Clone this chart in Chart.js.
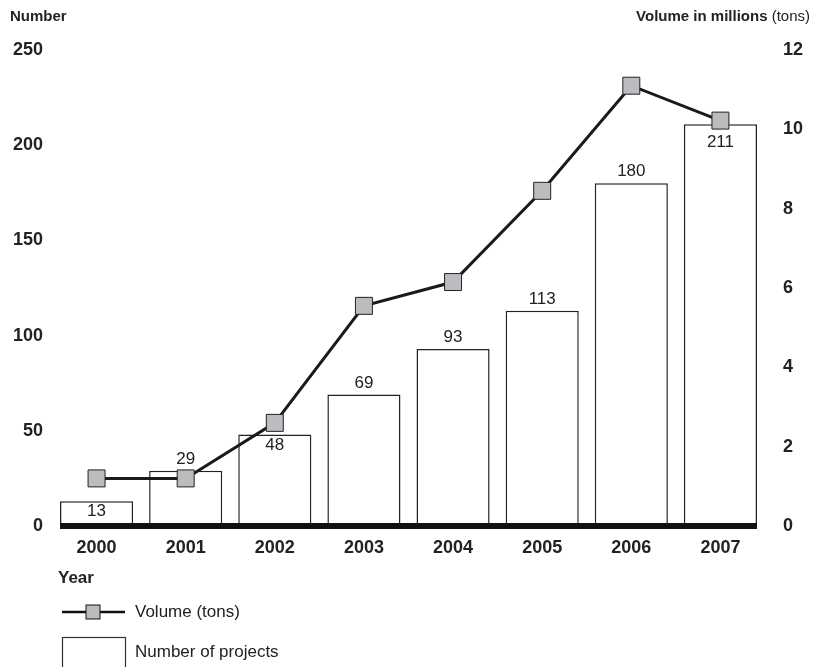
<!DOCTYPE html>
<html>
<head>
<meta charset="utf-8">
<script src="https://cdn.jsdelivr.net/npm/chart.js@4"></script>
<style>
  html, body { margin: 0; padding: 0; background: #fff; }
  canvas { display: block; }
</style>
</head>
<body>
<canvas id="chart" width="815" height="667"></canvas>
<script>
// data
var years = ["2000", "2001", "2002", "2003", "2004", "2005", "2006", "2007"];
var projects = [13, 29, 48, 69, 93, 113, 180, 211];
var volume = [1.2, 1.2, 2.6, 5.55, 6.15, 8.45, 11.1, 10.22];
var leftTicks = [0, 50, 100, 150, 200, 250];
var rightTicks = [0, 2, 4, 6, 8, 10, 12];

var FONT = "'Liberation Sans', Arial, sans-serif";

// labels, baseline, titles and the legend drawn by hand
var extras = {
  id: 'extras',
  afterDatasetsDraw: function(chart) {
    var ctx = chart.ctx;
    var meta = chart.getDatasetMeta(1);
    var line = chart.getDatasetMeta(0);
    var y0 = chart.scales.y.getPixelForValue(0);

    ctx.save();
    ctx.font = "17px " + FONT;
    ctx.fillStyle = "#222";
    ctx.textAlign = "center";
    meta.data.forEach(function(bar, i) {
      // small bar, bar under a marker and the top bar get their label inside
      var inside = (i == 0 || i == 2 || i == 7);
      if (inside) {
        var markBottom = line.data[i].y + 8.5;
        var off = Math.max(2, markBottom - bar.y + 5);
        ctx.textBaseline = "top";
        ctx.fillText(String(projects[i]), bar.x, bar.y + off);
      } else {
        ctx.textBaseline = "bottom";
        ctx.fillText(String(projects[i]), bar.x, bar.y - 3);
      }
    });

    // thick baseline
    var first = meta.data[0], last = meta.data[meta.data.length - 1];
    ctx.fillStyle = "#111";
    ctx.fillRect(first.x - first.width / 2, y0 - 3, (last.x + last.width / 2) - (first.x - first.width / 2), 6);

    // axis titles
    ctx.textBaseline = "middle";
    ctx.textAlign = "left";
    ctx.fillStyle = "#222";
    ctx.font = "bold 15px " + FONT;
    ctx.fillText("Number", 10, 17);
    ctx.font = "15px " + FONT;
    var tw = ctx.measureText("(tons)").width;
    ctx.textAlign = "right";
    ctx.fillText("(tons)", 810, 17);
    ctx.font = "bold 15px " + FONT;
    ctx.fillText("Volume in millions ", 810 - tw, 17);

    ctx.textAlign = "left";
    ctx.font = "bold 17px " + FONT;
    ctx.fillText("Year", 58, 578);

    // legend
    ctx.strokeStyle = "#111";
    ctx.lineWidth = 2.5;
    ctx.beginPath();
    ctx.moveTo(62, 612);
    ctx.lineTo(125, 612);
    ctx.stroke();
    ctx.fillStyle = "#bbbcc0";
    ctx.fillRect(86, 605, 14, 14);
    ctx.lineWidth = 1;
    ctx.strokeRect(86, 605, 14, 14);
    ctx.strokeStyle = "#333";
    ctx.lineWidth = 1.2;
    ctx.strokeRect(62.5, 637.5, 63, 40);

    ctx.fillStyle = "#222";
    ctx.font = "17px " + FONT;
    ctx.fillText("Volume (tons)", 135, 612);
    ctx.fillText("Number of projects", 135, 652);
    ctx.restore();
  }
};

var chart = new Chart(document.getElementById("chart").getContext("2d"), {
  data: {
    labels: years,
    datasets: [{
      type: 'line',
      label: "Volume (tons)",
      data: volume,
      yAxisID: 'y2',
      borderColor: '#1a1a1a',
      borderWidth: 3,
      pointStyle: 'rect',
      pointRadius: 12,
      pointBackgroundColor: '#bbbcc0',
      pointBorderColor: '#222',
      pointBorderWidth: 1,
      tension: 0,
      order: 0
    }, {
      type: 'bar',
      label: "Number of projects",
      data: projects,
      yAxisID: 'y',
      backgroundColor: '#fff',
      borderColor: '#222',
      borderWidth: 1.5,
      barPercentage: 0.82,
      categoryPercentage: 1,
      order: 1
    }]
  },
  options: {
    responsive: false,
    animation: false,
    layout: { padding: { top: 50, right: 0, left: 0, bottom: 0 } },
    plugins: { legend: { display: false }, tooltip: { enabled: false } },
    scales: {
      x: {
        grid: { display: false, drawTicks: false },
        border: { display: false },
        ticks: { color: '#222', font: { family: FONT, size: 18, weight: 'bold' }, padding: 11 },
        afterFit: function(s) { s.height = 141; }
      },
      y: {
        position: 'left',
        min: 0, max: 250,
        grid: { display: false, drawTicks: false },
        border: { display: false },
        afterBuildTicks: function(s) { s.ticks = leftTicks.map(function(v) { return { value: v }; }); },
        ticks: { color: '#222', font: { family: FONT, size: 18, weight: 'bold' }, padding: 9 },
        afterFit: function(s) { s.width = 52; }
      },
      y2: {
        position: 'right',
        min: 0, max: 12,
        grid: { display: false, drawTicks: false },
        border: { display: false },
        afterBuildTicks: function(s) { s.ticks = rightTicks.map(function(v) { return { value: v }; }); },
        ticks: { color: '#222', font: { family: FONT, size: 18, weight: 'bold' }, padding: 18 },
        afterFit: function(s) { s.width = 50; }
      }
    }
  },
  plugins: [extras]
});
</script>
</body>
</html>
